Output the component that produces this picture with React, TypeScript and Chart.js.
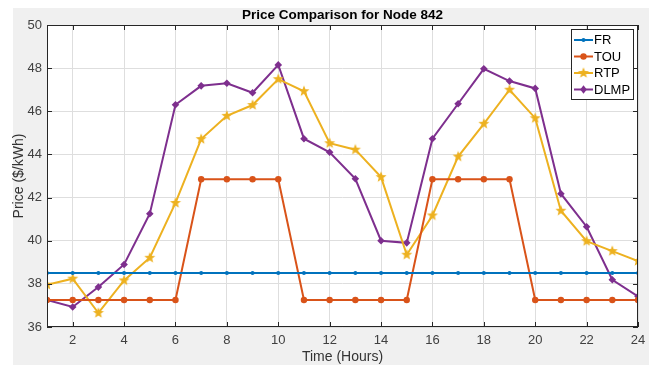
import React, { useEffect, useRef } from "react";
import { Chart, registerables } from "chart.js";

Chart.register(...registerables);

const hours = [1, 2, 3, 4, 5, 6, 7, 8, 9, 10, 11, 12, 13, 14, 15, 16, 17, 18, 19, 20, 21, 22, 23, 24];
const xTicks = [2, 4, 6, 8, 10, 12, 14, 16, 18, 20, 22, 24];
const yTicks = [36, 38, 40, 42, 44, 46, 48, 50];

const frValues = [38.5, 38.5, 38.5, 38.5, 38.5, 38.5, 38.5, 38.5, 38.5, 38.5, 38.5, 38.5, 38.5, 38.5, 38.5, 38.5, 38.5, 38.5, 38.5, 38.5, 38.5, 38.5, 38.5, 38.5];
const touValues = [37.25, 37.25, 37.25, 37.25, 37.25, 37.25, 42.85, 42.85, 42.85, 42.85, 37.25, 37.25, 37.25, 37.25, 37.25, 42.85, 42.85, 42.85, 42.85, 37.25, 37.25, 37.25, 37.25, 37.25];
const rtpValues = [37.96, 38.24, 36.65, 38.16, 39.21, 41.75, 44.71, 45.79, 46.29, 47.49, 46.93, 44.52, 44.22, 42.95, 39.35, 41.17, 43.9, 45.42, 47.0, 45.68, 41.39, 39.98, 39.52, 39.06];
const dlmpValues = [37.25, 36.93, 37.85, 38.9, 41.25, 46.3, 47.18, 47.3, 46.86, 48.15, 44.73, 44.1, 42.87, 40.0, 39.9, 44.73, 46.35, 47.97, 47.4, 47.06, 42.18, 40.65, 38.19, 37.42];

const seriesNames = ["FR", "TOU", "RTP", "DLMP"];
const seriesColors = ["#0072BD", "#D95319", "#EDB120", "#7E2F8E"];

function makeStar(color: string, r: number): HTMLCanvasElement {
  const c = document.createElement("canvas");
  const s = Math.ceil(r * 2 + 2);
  c.width = s;
  c.height = s;
  const ctx = c.getContext("2d")!;
  const cx = s / 2;
  const cy = s / 2;
  ctx.beginPath();
  for (let i = 0; i < 10; i++) {
    const rad = i % 2 === 0 ? r : r * 0.42;
    const a = -Math.PI / 2 + (i * Math.PI) / 5;
    const x = cx + rad * Math.cos(a);
    const y = cy + rad * Math.sin(a);
    if (i === 0) ctx.moveTo(x, y);
    else ctx.lineTo(x, y);
  }
  ctx.closePath();
  ctx.fillStyle = color;
  ctx.fill();
  return c;
}

export default function App() {
  const ref = useRef<HTMLCanvasElement>(null);

  useEffect(() => {
    document.body.style.margin = "0";
    const canvas = ref.current!;
    const star = makeStar(seriesColors[2], 5.8);
    const toXY = (arr: number[]) => arr.map((v, i) => ({ x: hours[i], y: v }));

    const decorPlugin = {
      id: "decor",
      beforeDraw(chart: any) {
        const { ctx, chartArea } = chart;
        ctx.save();
        ctx.fillStyle = "#ffffff";
        ctx.fillRect(0, 0, chart.width, chart.height);
        ctx.fillStyle = "#f0f0f0";
        ctx.fillRect(13, 8, 636, 357);
        ctx.fillStyle = "#ffffff";
        ctx.fillRect(chartArea.left, chartArea.top, chartArea.right - chartArea.left, chartArea.bottom - chartArea.top);
        ctx.restore();
      },
      afterDraw(chart: any) {
        const { ctx, chartArea, scales } = chart;
        const { left, right, top, bottom } = chartArea;
        ctx.save();
        ctx.strokeStyle = "#262626";
        ctx.lineWidth = 1;
        ctx.strokeRect(left + 0.5, top + 0.5, right - left - 1, bottom - top - 1);
        ctx.beginPath();
        xTicks.forEach((t) => {
          const x = Math.round(scales.x.getPixelForValue(t)) + 0.5;
          ctx.moveTo(x, bottom);
          ctx.lineTo(x, bottom - 5);
          ctx.moveTo(x, top);
          ctx.lineTo(x, top + 5);
        });
        yTicks.forEach((t) => {
          const y = Math.round(scales.y.getPixelForValue(t)) + 0.5;
          ctx.moveTo(left, y);
          ctx.lineTo(left + 5, y);
          ctx.moveTo(right, y);
          ctx.lineTo(right - 5, y);
        });
        ctx.stroke();

        ctx.fillStyle = "#000000";
        ctx.font = "bold 13.5px 'Liberation Sans', Arial, sans-serif";
        ctx.textAlign = "center";
        ctx.textBaseline = "middle";
        ctx.fillText("Price Comparison for Node 842", (left + right) / 2, 15);

        ctx.fillStyle = "#333333";
        ctx.font = "14px 'Liberation Sans', Arial, sans-serif";
        ctx.fillText("Time (Hours)", (left + right) / 2, 357);
        ctx.save();
        ctx.translate(19, (top + bottom) / 2);
        ctx.rotate(-Math.PI / 2);
        ctx.fillText("Price ($/kWh)", 0, 0);
        ctx.restore();

        const lx = 571;
        const ly = 29;
        const lw = 62;
        const lh = 70;
        ctx.fillStyle = "#ffffff";
        ctx.fillRect(lx, ly, lw, lh);
        ctx.strokeStyle = "#262626";
        ctx.lineWidth = 1;
        ctx.strokeRect(lx + 0.5, ly + 0.5, lw, lh);
        ctx.font = "13px 'Liberation Sans', Arial, sans-serif";
        ctx.textAlign = "left";
        ctx.textBaseline = "middle";
        seriesNames.forEach((name, i) => {
          const y = ly + 11 + i * 16.5;
          const color = seriesColors[i];
          ctx.strokeStyle = color;
          ctx.lineWidth = 2;
          ctx.beginPath();
          ctx.moveTo(lx + 3, y);
          ctx.lineTo(lx + 22, y);
          ctx.stroke();
          ctx.fillStyle = color;
          const mx = lx + 12.5;
          if (i === 0) {
            ctx.beginPath();
            ctx.arc(mx, y, 2, 0, Math.PI * 2);
            ctx.fill();
          } else if (i === 1) {
            ctx.beginPath();
            ctx.arc(mx, y, 3.2, 0, Math.PI * 2);
            ctx.fill();
          } else if (i === 2) {
            ctx.drawImage(star, mx - star.width / 2, y - star.height / 2);
          } else {
            ctx.beginPath();
            ctx.moveTo(mx, y - 4.2);
            ctx.lineTo(mx + 3.3, y);
            ctx.lineTo(mx, y + 4.2);
            ctx.lineTo(mx - 3.3, y);
            ctx.closePath();
            ctx.fill();
          }
          ctx.fillStyle = "#000000";
          ctx.fillText(name, lx + 23, y + 0.5);
        });
        ctx.restore();
      },
    };

    const chart = new Chart(canvas, {
      type: "line",
      data: {
        datasets: [
          {
            label: seriesNames[0],
            data: toXY(frValues),
            borderColor: seriesColors[0],
            backgroundColor: seriesColors[0],
            borderWidth: 2,
            pointStyle: "circle",
            pointRadius: 2,
            pointBorderWidth: 0,
          },
          {
            label: seriesNames[1],
            data: toXY(touValues),
            borderColor: seriesColors[1],
            backgroundColor: seriesColors[1],
            borderWidth: 2,
            pointStyle: "circle",
            pointRadius: 3.2,
            pointBorderWidth: 0,
          },
          {
            label: seriesNames[2],
            data: toXY(rtpValues),
            borderColor: seriesColors[2],
            backgroundColor: seriesColors[2],
            borderWidth: 2,
            pointStyle: star as any,
            pointRadius: 6,
          },
          {
            label: seriesNames[3],
            data: toXY(dlmpValues),
            borderColor: seriesColors[3],
            backgroundColor: seriesColors[3],
            borderWidth: 2,
            pointStyle: "rectRot",
            pointRadius: 3.8,
            pointBorderWidth: 0,
          },
        ],
      },
      options: {
        animation: false,
        responsive: false,
        maintainAspectRatio: false,
        layout: { padding: { left: 0, right: 18, top: 25, bottom: 0 } },
        plugins: {
          legend: { display: false },
          title: { display: false },
          tooltip: { enabled: false },
        },
        elements: { line: { tension: 0 } },
        scales: {
          x: {
            type: "linear",
            min: 1,
            max: 24,
            afterBuildTicks: (scale: any) => {
              scale.ticks = xTicks.map((v) => ({ value: v }));
            },
            afterFit: (scale: any) => {
              scale.height = 38;
            },
            grid: { color: "#dedede", drawTicks: false, lineWidth: 1 },
            border: { display: false },
            ticks: {
              padding: 6,
              color: "#404040",
              font: { size: 13, family: "'Liberation Sans', Arial, sans-serif" },
              maxRotation: 0,
              autoSkip: false,
            },
          },
          y: {
            type: "linear",
            min: 36,
            max: 50,
            afterBuildTicks: (scale: any) => {
              scale.ticks = yTicks.map((v) => ({ value: v }));
            },
            afterFit: (scale: any) => {
              scale.width = 47;
            },
            grid: { color: "#dedede", drawTicks: false, lineWidth: 1 },
            border: { display: false },
            ticks: {
              padding: 5,
              color: "#404040",
              font: { size: 13, family: "'Liberation Sans', Arial, sans-serif" },
              autoSkip: false,
            },
          },
        },
      },
      plugins: [decorPlugin],
    });
    return () => chart.destroy();
  }, []);

  return (
    <div style={{ position: "relative", width: 656, height: 365 }}>
      <canvas ref={ref} width={656} height={365} style={{ display: "block", width: 656, height: 365 }} />
    </div>
  );
}
